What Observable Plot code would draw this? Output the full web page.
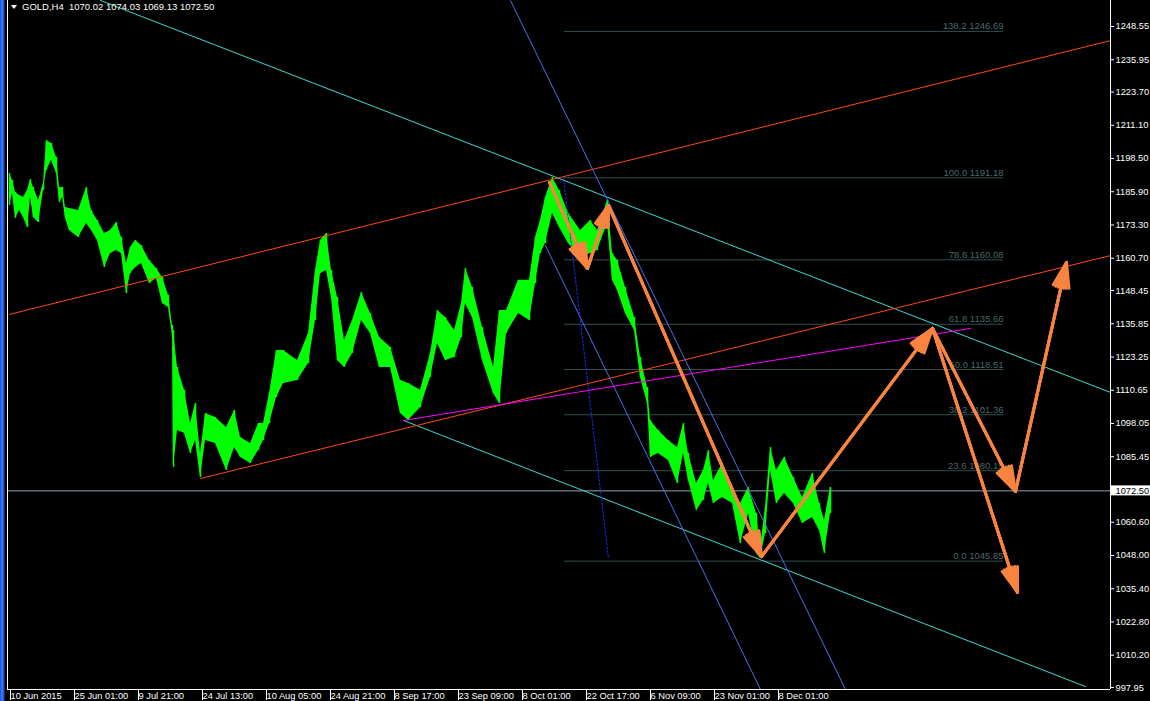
<!DOCTYPE html>
<html>
<head>
<meta charset="utf-8">
<script src="https://cdn.jsdelivr.net/npm/d3@7"></script>
<script src="https://cdn.jsdelivr.net/npm/@observablehq/plot@0.6"></script>
<style>
  html, body { margin: 0; padding: 0; background: #000; }
  #wrap { position: relative; width: 1150px; height: 701px; overflow: hidden;
    background: linear-gradient(to right, #1d4fd6 0px, #3d7df2 2px, #1d4fd6 4px, #000 5px, #000 100%); }
  #hdr { position: absolute; left: 11px; top: 1px; color: #fff; font: 9.5px "Liberation Sans", sans-serif; white-space: pre; }
  #hdr .tri { display: inline-block; width: 0; height: 0; border-left: 3.5px solid transparent; border-right: 3.5px solid transparent; border-top: 4px solid #fff; margin-right: 5px; vertical-align: 1px; }
</style>
</head>
<body>
<div id="wrap"><div id="chart"></div><div id="hdr"><span class="tri"></span>GOLD,H4  1070.02 1074.03 1069.13 1072.50</div></div>
<script>
// ---- price series (H4 bars sampled; bar index, high, low) ----
const bars = [2,5,8,12,16,20,23,26,31,36,39,44,49,52,55,58,62,71,79,84,90,97,103,109,114,119,123,128,134,142,149,155,161,165,
  166,170,177,183,188,193,198,208,219,227,233,243,251,256,262,269,276,290,301,
  308,313,319,324,330,337,345,354,363,372,383,393,401,413,423,430,438,447,454,458,465,475,486,492,499,511,522,528,533,538,545,552,561,573,583,590,600,605,610,618,627,633,640,
  643,651,661,670,676,681,689,696,701,706,715,725,733,741,749,753,758,763,769,777,786,795,805,812,817,823];
const highs = [1192.8,1190.2,1185.6,1184.5,1183.7,1186.4,1190.5,1187.5,1182.6,1189.0,1205.3,1204.2,1198.9,1187.5,1187.5,1179.9,1179.5,1178.8,1187.5,1178.8,1175.0,1170.1,1171.2,1174.2,1168.6,1158.7,1164.8,1167.4,1165.5,1159.8,1156.8,1153.4,1146.6,1135.2,
  1133.3,1119.3,1110.6,1098.0,1105.6,1086.7,1101.8,1100.3,1096.5,1103.0,1092.7,1090.5,1098.0,1098.0,1109.4,1125.7,1125.7,1121.9,1132.2,
  1156.0,1167.4,1170.1,1156.0,1145.8,1129.5,1137.1,1147.7,1139.7,1130.6,1126.9,1114.3,1113.2,1110.6,1124.6,1140.9,1138.2,1133.3,1143.5,1156.8,1149.6,1134.4,1119.3,1140.9,1140.9,1152.3,1152.3,1168.6,1175.0,1183.7,1191.3,1186.4,1177.7,1171.2,1175.0,1171.2,1182.6,1162.5,1159.8,1149.6,1138.2,1123.1,1111.7,
  1099.2,1095.4,1091.6,1088.9,1098.0,1086.7,1075.3,1080.2,1087.8,1076.4,1082.9,1073.8,1067.7,1073.8,1063.9,1051.0,1066.2,1088.9,1080.2,1085.2,1077.6,1070.0,1079.1,1067.7,1061.3,1073.8];
const lows = [1180.7,1185.2,1175.8,1178.8,1176.1,1172.3,1183.7,1176.1,1174.2,1186.4,1194.0,1197.7,1192.8,1181.8,1183.7,1175.8,1171.2,1168.6,1173.9,1171.2,1167.4,1157.2,1162.5,1163.6,1162.5,1147.3,1154.9,1157.2,1158.7,1151.1,1153.0,1143.5,1142.0,1131.4,
  1081.4,1095.4,1094.3,1086.7,1091.6,1077.6,1091.6,1090.5,1080.2,1088.9,1085.2,1082.9,1087.8,1091.6,1098.0,1107.9,1113.2,1114.3,1120.8,
  1137.1,1154.9,1156.0,1145.8,1121.9,1119.3,1124.6,1137.1,1132.2,1119.3,1119.3,1101.8,1099.2,1104.1,1115.5,1128.4,1121.9,1123.1,1130.6,1143.5,1138.2,1121.9,1109.4,1105.6,1132.2,1139.7,1137.1,1151.1,1162.5,1166.3,1177.7,1172.3,1166.3,1161.0,1162.5,1163.6,1173.9,1152.3,1148.5,1139.7,1133.3,1115.5,1105.6,
  1085.2,1086.7,1084.0,1075.3,1086.7,1076.4,1065.1,1068.9,1075.3,1067.7,1070.0,1067.7,1052.5,1063.9,1048.8,1046.9,1056.3,1080.2,1067.7,1071.5,1067.7,1060.1,1062.4,1057.5,1048.8,1063.9];
const lastPrice = 1072.50;

// ---- axes ----
const xDomain = [0, 1103];
const yDomain = [997.2, 1258.4];
const xTickBars = [1,65,129,193,257,321,385,449,513,577,641,705,769];
const xTickLabels = ["10 Jun 2015","25 Jun 01:00","9 Jul 21:00","24 Jul 13:00","10 Aug 05:00","24 Aug 21:00","8 Sep 17:00","23 Sep 09:00","8 Oct 01:00","22 Oct 17:00","6 Nov 09:00","23 Nov 01:00","8 Dec 01:00"];
const yTicks = [1248.55,1235.95,1223.70,1211.10,1198.50,1185.90,1173.30,1160.70,1148.45,1135.85,1123.25,1110.65,1098.05,1085.45,1060.60,1048.00,1035.40,1022.80,1010.20,997.95];

// ---- Fibonacci retracement ----
const fibPct = [138.2,100.0,78.6,61.8,50.0,38.2,23.6,0.0];
const fibPrice = [1246.69,1191.18,1160.08,1135.66,1118.51,1101.36,1080.15,1045.85];
const fibStartBar = 557, fibEndBar = 996;

// ---- drawn trend lines [bar, price] ----
const cyanUpper = [[93,1258.4],[1103,1109.8]];
const cyanLower = [[396,1099.2],[1078,998.3]];
const redUpper = [[2,1139.4],[1103,1243.2]];
const redLower = [[193,1077.2],[1103,1161.7]];
const magentaLine = [[396,1099.2],[963,1134.1]];
const blueA = [[503,1258.4],[838,997.2]];
const blueB = [[538,1165.5],[753,997.2]];
const blueDotted = [[556,1191.3],[601,1046.9]];

// ---- orange projection arrows [fromBar, fromPrice, toBar, toPrice] ----
const arrows = [
  [542,1189.4,580,1156.8],
  [580,1156.8,601,1180.7],
  [601,1180.7,754,1047.6],
  [754,1047.6,925,1134.1],
  [925,1134.1,1008,1072.3],
  [1008,1072.3,1059,1159.1],
  [925,1134.1,1010,1034.0]
];

const priceData = bars.map((b,i) => ({bar: b, hi: highs[i], lo: lows[i]}));
const fibData = fibPct.map((p,i) => ({pct: p, price: fibPrice[i]}));
const labelOf = new Map(xTickBars.map((b,i) => [b, xTickLabels[i]]));
const lineOpts = (stroke, extra={}) => ({x: d => d[0], y: d => d[1], stroke, strokeWidth: 1, clip: true, ...extra});
const arrowOpts = (angle) => ({x1: d => d[0], y1: d => d[1], x2: d => d[2], y2: d => d[3], stroke: "#f8843f", strokeWidth: 3, headLength: 13, headAngle: angle, clip: true});
const FONT = "Liberation Sans, sans-serif";

const chart = Plot.plot({
  width: 1150, height: 701,
  marginLeft: 7, marginRight: 40, marginTop: 0, marginBottom: 12,
  style: {background: "transparent", color: "white", fontFamily: FONT, fontSize: "9px"},
  x: {domain: xDomain},
  y: {domain: yDomain},
  marks: [
    // fib levels
    Plot.ruleY(fibData, {y: "price", x1: () => fibStartBar, x2: () => fibEndBar, stroke: "#2f4f4f"}),
    Plot.text(fibData, {x: () => fibEndBar, y: "price", text: d => `${d.pct.toFixed(1)} ${d.price.toFixed(2)}`, textAnchor: "end", lineAnchor: "bottom", dy: -2, fill: "#4a6a6a", fontSize: 9.5}),
    // last price line
    Plot.ruleY([lastPrice], {stroke: "#8ea0b2", strokeWidth: 1}),
    // price
    Plot.areaY(priceData, {x: "bar", y1: "lo", y2: "hi", fill: "#00ff00", curve: "linear"}),
    Plot.ruleX(priceData, {x: "bar", y1: "lo", y2: "hi", stroke: "#00ff00", strokeWidth: 1.5}),
    // trend lines
    Plot.line(cyanUpper, lineOpts("#40d8d0")),
    Plot.line(cyanLower, lineOpts("#40d8d0")),
    Plot.line(redUpper, lineOpts("#ff4a10")),
    Plot.line(redLower, lineOpts("#ff4a10")),
    Plot.line(blueA, lineOpts("#4a6ff0")),
    Plot.line(blueB, lineOpts("#4a6ff0")),
    Plot.line(blueDotted, lineOpts("#1a2cff", {strokeDasharray: "2,2"})),
    Plot.line(magentaLine, lineOpts("#ff00ff")),
    // arrows (stacked heads give a filled look)
    Plot.arrow(arrows, arrowOpts(36)),
    Plot.arrow(arrows, arrowOpts(24)),
    Plot.arrow(arrows, arrowOpts(12)),
    // frame
    Plot.ruleX([xDomain[0], xDomain[1]], {stroke: "white", strokeWidth: 1}),
    Plot.ruleY([yDomain[0]], {stroke: "white", strokeWidth: 1}),
    // axes
    Plot.axisY(yTicks, {anchor: "right", tickSize: 3, tickPadding: 2, tickFormat: d => d.toFixed(2), fontSize: 9.3, fontFamily: FONT, label: null}),
    Plot.axisX(xTickBars, {anchor: "bottom", tickSize: 11, tickPadding: -8, textAnchor: "start", dx: 2, tickFormat: d => labelOf.get(d), fontSize: 9.3, fontFamily: FONT, label: null}),
    // last price box
    Plot.rect([lastPrice], {x1: () => xDomain[1], x2: () => xDomain[1], y1: d => d, y2: d => d, insetLeft: 1, insetRight: -40, insetTop: -5, insetBottom: -5, fill: "white"}),
    Plot.text([lastPrice], {x: () => xDomain[1], y: d => d, text: d => d.toFixed(2), textAnchor: "start", dx: 5, fill: "black", fontSize: 9.3, fontFamily: FONT})
  ]
});
document.getElementById("chart").appendChild(chart);
</script>
</body>
</html>
